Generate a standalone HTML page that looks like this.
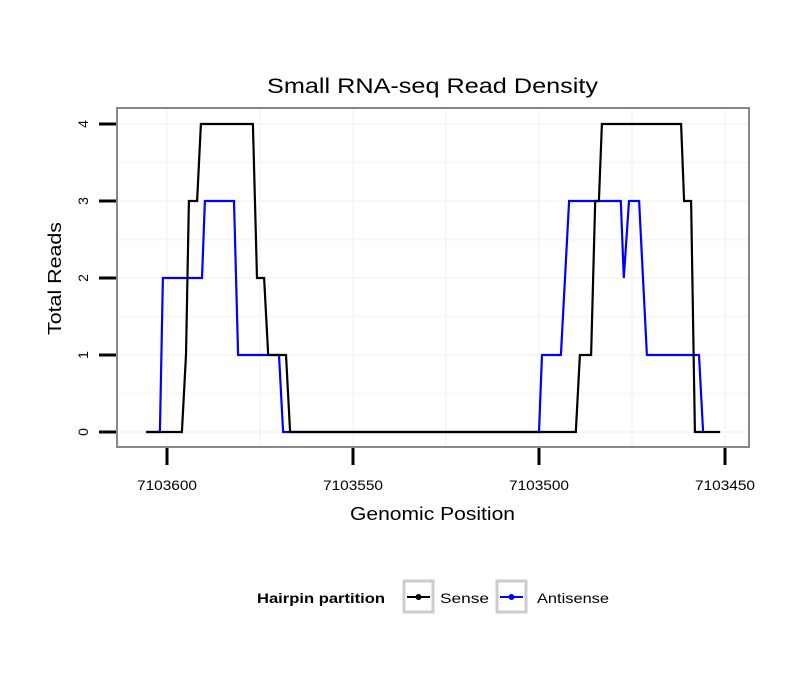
<!DOCTYPE html>
<html><head><meta charset="utf-8"><style>
body{margin:0;background:#fff}
text{font-family:"Liberation Sans",sans-serif}
</style></head><body>
<svg id="chart" width="810" height="690" xmlns="http://www.w3.org/2000/svg">
<rect width="810" height="690" fill="#fff"/>
<text x="267" y="93" font-size="21" textLength="331" lengthAdjust="spacingAndGlyphs">Small RNA-seq Read Density</text>
<g id="grid"></g>
<g id="lines"></g>
<rect x="117" y="108" width="632" height="339" fill="none" stroke="#888" stroke-width="2"/>
<g id="axes"></g>
<text x="350" y="520" font-size="18" textLength="165" lengthAdjust="spacingAndGlyphs">Genomic Position</text>
<text transform="translate(61,335) rotate(-90)" font-size="18" textLength="113" lengthAdjust="spacingAndGlyphs">Total Reads</text>
<g>
<text x="257" y="603" font-size="14" font-weight="bold" textLength="128" lengthAdjust="spacingAndGlyphs">Hairpin partition</text>
<g>
<rect x="404" y="581" width="29" height="31" fill="#fff" stroke="#ccc" stroke-width="3"/>
<line x1="407" y1="597" x2="430" y2="597" stroke="#000" stroke-width="2"/>
<circle cx="418.5" cy="597" r="3" fill="#000"/>
<text x="440" y="603" font-size="14" textLength="49" lengthAdjust="spacingAndGlyphs">Sense</text></g>
<g>
<rect x="497" y="581" width="29" height="31" fill="#fff" stroke="#ccc" stroke-width="3"/>
<line x1="500" y1="597" x2="523" y2="597" stroke="#00f" stroke-width="2"/>
<circle cx="511.5" cy="597" r="3" fill="#00f"/>
<text x="537" y="603" font-size="14" textLength="72" lengthAdjust="spacingAndGlyphs">Antisense</text></g>
</g>
</svg>
<script>
const xTicks=[7103600,7103550,7103500,7103450];
const xTickLabels=["7103600","7103550","7103500","7103450"];
const yTicks=[0,1,2,3,4];
const senseX=[7103605.6,7103596.0,7103594.9,7103594.1,7103591.9,7103590.9,7103576.9,7103575.8,7103573.9,7103572.8,7103568.0,7103566.9,7103490.1,7103489.0,7103486.0,7103484.9,7103483.9,7103483.1,7103461.8,7103461.0,7103459.1,7103458.1,7103451.3];
const senseY=[0,0,1,3,3,4,4,2,2,1,1,0,0,1,1,3,3,4,4,3,3,0,0];
const antiX=[7103605.6,7103601.9,7103601.1,7103590.6,7103589.8,7103582.0,7103580.9,7103569.9,7103568.8,7103500.0,7103499.2,7103494.1,7103491.9,7103478.0,7103477.2,7103475.8,7103473.1,7103471.0,7103457.0,7103455.9];
const antiY=[0,0,2,2,3,3,1,1,0,0,1,1,3,3,2,3,3,1,1,0];
const NS="http://www.w3.org/2000/svg";
function xs(v){return 167+(7103600-v)*3.72;}
function ys(v){return 432-v*77;}
function mk(tag,attrs,parent){const e=document.createElementNS(NS,tag);for(const k in attrs)e.setAttribute(k,attrs[k]);parent.appendChild(e);return e;}
const grid=document.getElementById('grid'),axes=document.getElementById('axes'),lines=document.getElementById('lines');
for(let i=0;i<xTicks.length;i++){
 [xTicks[i],xTicks[i]-25].forEach(v=>{const X=xs(v);if(X>117&&X<749){const l=mk('line',{x1:X,x2:X,y1:108,y2:447,stroke:'#f7f7f7','stroke-width':2},grid);
 
 }});
}
for(let i=0;i<yTicks.length;i++){
 [yTicks[i],yTicks[i]+0.5].forEach(v=>{const Y=ys(v);if(Y>108&&Y<447){const l=mk('line',{x1:117,x2:749,y1:Y,y2:Y,stroke:'#f7f7f7','stroke-width':2},grid);
 
 }});
}
xTicks.forEach((v,i)=>{const X=xs(v);
 const t=mk('line',{x1:X,x2:X,y1:448,y2:465,stroke:'#000','stroke-width':3},axes);
 
 
 const tx=mk('text',{x:X-30,y:490,'font-size':14,textLength:60,lengthAdjust:'spacingAndGlyphs'},axes);tx.textContent=xTickLabels[i];
 
 
});
yTicks.forEach(v=>{const Y=ys(v);
 const t=mk('line',{x1:99,x2:116,y1:Y,y2:Y,stroke:'#000','stroke-width':3},axes);
 
 
 const tx=mk('text',{transform:`translate(88,${Y}) rotate(-90)`,'font-size':14,'text-anchor':'middle'},axes);tx.textContent=String(v);
 
 
});
function path(X,Y,color,name){
 const d=X.map((v,i)=>(i?'L':'M')+xs(v).toFixed(1)+','+ys(Y[i]).toFixed(1)).join('');
 const p=mk('path',{d:d,fill:'none',stroke:color,'stroke-width':2.2,'stroke-linejoin':'miter'},lines);
 
 
}
path(antiX,antiY,'#00f','antisense-line');
path(senseX,senseY,'#000','sense-line');
</script>
</body></html>
